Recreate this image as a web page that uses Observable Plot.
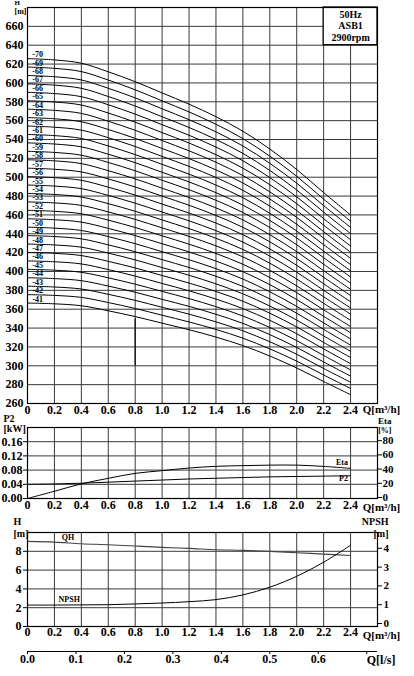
<!DOCTYPE html>
<html><head><meta charset="utf-8">
<script src="https://cdn.jsdelivr.net/npm/d3@7"></script>
<script src="https://cdn.jsdelivr.net/npm/@observablehq/plot@0.6"></script>
<style>
body{margin:0;background:#fff;}
#wrap{position:relative;width:414px;height:676px;overflow:hidden;background:#fff;}
#wrap svg{position:absolute;left:0;overflow:visible;}
</style></head><body><div id="wrap"></div>
<script>
// ---------- data ----------
const flowQ = [0, 0.2, 0.4, 0.6, 0.8, 1.0, 1.2, 1.4, 1.6, 1.8, 2.0, 2.2, 2.4]; // m3/h
const stages = [41,42,43,44,45,46,47,48,49,50,51,52,53,54,55,56,57,58,59,60,61,62,63,64,65,66,67,68,69,70];
const headPerStage = [8.94, 8.92, 8.87, 8.74, 8.59, 8.42, 8.25, 8.06, 7.84, 7.57, 7.26, 6.91, 6.57]; // m per stage
const p2kW = [0.040, 0.041, 0.043, 0.046, 0.049, 0.052, 0.055, 0.057, 0.059, 0.061, 0.062, 0.063, 0.064];
const etaPct = [0, 10.2, 20.6, 28.4, 35.4, 39.2, 42.9, 45.3, 46.3, 47.0, 47.0, 45.2, 42.4];
const qhHead = [9.06, 8.98, 8.81, 8.70, 8.56, 8.42, 8.31, 8.17, 8.10, 7.99, 7.85, 7.70, 7.56];
const npshM = [1.14, 1.14, 1.15, 1.16, 1.20, 1.25, 1.32, 1.43, 1.68, 2.09, 2.67, 3.42, 4.32];
const qTicks = [0, 0.2, 0.4, 0.6, 0.8, 1.0, 1.2, 1.4, 1.6, 1.8, 2.0, 2.2, 2.4];
const hTicks = [260,280,300,320,340,360,380,400,420,440,460,480,500,520,540,560,580,600,620,640,660,680];
const p2Ticks = [0, 0.04, 0.08, 0.12, 0.16, 0.20];
const hSmallTicks = [0, 2, 4, 6, 8, 10];
const lsTicks = [0, 0.1, 0.2, 0.3, 0.4, 0.5, 0.6, 0.7];
const infoBox = ["50Hz", "ASB1", "2900rpm"];
const qLabel = "Q[m³/h]";
const lsLabel = "Q[l/s]";

// ---------- common ----------
const W = 414, ML = 27, MR = 37;
const FONT = '"Liberation Serif", "DejaVu Serif", serif';
const style = {fontFamily: FONT, fontWeight: "bold", fontSize: "12px", background: "transparent", color: "#000", overflow: "visible"};
const GRID = "#3a3a3a";
const gridQ = qTicks.slice(1);
const fmtQ = d => d === 0 ? "0" : d.toFixed(1);
const wrap = document.getElementById("wrap");
function place(svg, top) { svg.style.top = top + "px"; wrap.appendChild(svg); }
const qAxis = (pad, extra) => [
  Plot.axisX({ticks: qTicks, tickFormat: fmtQ, tickSize: 0, tickPadding: pad, label: null}),
  Plot.text([qLabel], {x: 2.49, frameAnchor: "bottom", dy: pad + extra, textAnchor: "start", lineAnchor: "top", fontSize: 11, fontWeight: "bold"})
];

// ---------- main H-Q panel ----------
const rows = stages.flatMap(n => flowQ.map((q, i) => ({n, q, h: n * headPerStage[i]})));
const main = Plot.plot({
  width: W, height: 416, marginTop: 7, marginBottom: 13, marginLeft: ML, marginRight: MR,
  style,
  x: {domain: [0, 2.6]},
  y: {domain: [260, 680]},
  marks: [
    Plot.ruleX(gridQ, {stroke: GRID, strokeWidth: 1}),
    Plot.ruleY(hTicks.slice(1, -1), {stroke: GRID, strokeWidth: 1}),
    Plot.ruleX([0.8], {y1: 300, y2: 350, stroke: "#111", strokeWidth: 1.3}),
    Plot.line(rows, {x: "q", y: "h", z: "n", curve: "catmull-rom", stroke: "#000", strokeWidth: 1}),
    Plot.text(stages, {x: 0.035, y: n => n * headPerStage[0], dy: -4, text: n => "-" + n, textAnchor: "start", fontSize: 8, fontWeight: "bold"}),
    Plot.rect([infoBox], {x1: 2.2, x2: 2.6, y1: 640, y2: 680, fill: "white", stroke: "#000", strokeWidth: 1.3}),
    Plot.text([infoBox[0]], {x: 2.4, y: 680, dy: 7, lineAnchor: "middle", fontSize: 10, fontWeight: "bold"}),
    Plot.text([infoBox[1]], {x: 2.4, y: 680, dy: 18.5, lineAnchor: "middle", fontSize: 10, fontWeight: "bold"}),
    Plot.text([infoBox[2]], {x: 2.4, y: 680, dy: 30, lineAnchor: "middle", fontSize: 10, fontWeight: "bold"}),
    Plot.frame({stroke: "#000", strokeWidth: 1.2}),
    ...qAxis(2, 0),
    Plot.axisY({ticks: hTicks.slice(0, -1), tickSize: 0, tickPadding: 4, label: null}),
    Plot.text(["H"], {frameAnchor: "top-left", dx: -13, dy: -7, lineAnchor: "top", fontSize: 7, fontWeight: "bold"}),
    Plot.text(["[m]"], {frameAnchor: "top-left", dx: -13, dy: 1, lineAnchor: "top", fontSize: 8, fontWeight: "bold"})
  ]
});
place(main, 0);

// ---------- P2 / Eta panel ----------
const p2Rows = flowQ.map((q, i) => ({q, v: p2kW[i]}));
const etaRows = flowQ.map((q, i) => ({q, v: etaPct[i] / 500}));
const mid = Plot.plot({
  width: W, height: 115, marginTop: 27, marginBottom: 17, marginLeft: ML, marginRight: MR,
  style,
  x: {domain: [0, 2.6]},
  y: {domain: [0, 0.2]},
  marks: [
    Plot.ruleX(gridQ, {stroke: GRID, strokeWidth: 1}),
    Plot.ruleY(p2Ticks.slice(1, -1), {stroke: GRID, strokeWidth: 1}),
    Plot.line(p2Rows, {x: "q", y: "v", curve: "catmull-rom", stroke: "#000", strokeWidth: 1}),
    Plot.line(etaRows, {x: "q", y: "v", curve: "catmull-rom", stroke: "#000", strokeWidth: 1}),
    Plot.text(["Eta"], {x: 2.38, y: etaPct[12] / 500, dy: -6, textAnchor: "end", fontSize: 8, fontWeight: "bold"}),
    Plot.text(["P2"], {x: 2.38, y: p2kW[12], dy: 3, textAnchor: "end", fontSize: 8, fontWeight: "bold"}),
    Plot.frame({stroke: "#000", strokeWidth: 1.2}),
    ...qAxis(2, 3),
    Plot.axisY({ticks: p2Ticks.slice(0, -1), tickFormat: d => d.toFixed(2), tickSize: 4, tickPadding: 1, label: null}),
    Plot.axisY({anchor: "right", ticks: p2Ticks.slice(0, -1), tickFormat: d => String(Math.round(d * 500)), tickSize: 4, tickPadding: 1, dy: -1, fontSize: 11, label: null}),
    Plot.text(["P2"], {frameAnchor: "top-left", dx: -24, dy: -13, lineAnchor: "top", textAnchor: "start", fontSize: 10, fontWeight: "bold"}),
    Plot.text(["[kW]"], {frameAnchor: "top-left", dx: -24, dy: -3, lineAnchor: "top", textAnchor: "start", fontSize: 10, fontWeight: "bold"}),
    Plot.text(["Eta"], {frameAnchor: "top-right", dx: 14, dy: -9.5, lineAnchor: "top", fontSize: 9, fontWeight: "bold"}),
    Plot.text(["[%]"], {frameAnchor: "top-right", dx: 14, dy: -0.5, lineAnchor: "top", fontSize: 8, fontWeight: "bold"})
  ]
});
place(mid, 400);

// ---------- QH / NPSH panel ----------
const qhRows = flowQ.map((q, i) => ({q, v: qhHead[i]}));
const npRows = flowQ.map((q, i) => ({q, v: npshM[i] * 2}));
const bot = Plot.plot({
  width: W, height: 125, marginTop: 17, marginBottom: 14, marginLeft: ML, marginRight: MR,
  style,
  x: {domain: [0, 2.6]},
  y: {domain: [0, 10]},
  marks: [
    Plot.ruleX(gridQ, {stroke: GRID, strokeWidth: 1}),
    Plot.ruleY(hSmallTicks.slice(1, -1), {stroke: GRID, strokeWidth: 1}),
    Plot.line(qhRows, {x: "q", y: "v", curve: "catmull-rom", stroke: "#444", strokeWidth: 1.1}),
    Plot.line(npRows, {x: "q", y: "v", curve: "catmull-rom", stroke: "#000", strokeWidth: 1}),
    Plot.text(["QH"], {x: 0.3, y: qhHead[1], dy: -5, fontSize: 8, fontWeight: "bold"}),
    Plot.text(["NPSH"], {x: 0.31, y: npshM[1] * 2, dy: -6, fontSize: 8, fontWeight: "bold"}),
    Plot.frame({stroke: "#000", strokeWidth: 1.2}),
    ...qAxis(1, 4),
    Plot.axisY({ticks: hSmallTicks.slice(0, -1), tickSize: 4, tickPadding: 2, label: null}),
    Plot.axisY({anchor: "right", ticks: hSmallTicks.slice(0, -1), tickFormat: d => String(d / 2), tickSize: 4, tickPadding: 2, dy: -3, fontSize: 11, label: null}),
    Plot.text(["H"], {frameAnchor: "top-left", dx: -14, dy: -15, lineAnchor: "top", fontSize: 10, fontWeight: "bold"}),
    Plot.text(["[m]"], {frameAnchor: "top-left", dx: -14, dy: -3, lineAnchor: "top", fontSize: 10, fontWeight: "bold"}),
    Plot.text(["NPSH"], {frameAnchor: "top-right", dx: 11, dy: -15, lineAnchor: "top", fontSize: 10, fontWeight: "bold"}),
    Plot.text(["[m]"], {frameAnchor: "top-right", dx: 11, dy: -3, lineAnchor: "top", fontSize: 10, fontWeight: "bold"})
  ]
});
place(bot, 515);

// ---------- Q [l/s] secondary axis ----------
const ls = Plot.plot({
  width: W, height: 36, marginTop: 10, marginBottom: 25, marginLeft: ML, marginRight: MR,
  style,
  x: {domain: [0, 2.6 / 3.6]},
  y: {domain: [0, 1], axis: null},
  marks: [
    Plot.ruleY([0], {stroke: "#000", strokeWidth: 1}),
    Plot.axisX({ticks: lsTicks, tickFormat: d => d >= 0.7 ? "" : d.toFixed(1), tickSize: 3, tickPadding: 0, label: null}),
    Plot.text([lsLabel], {x: 0.7, frameAnchor: "bottom", dy: 4, dx: 0, textAnchor: "start", lineAnchor: "top", fontSize: 12, fontWeight: "bold"})
  ]
});
place(ls, 640);
</script>
</body></html>
